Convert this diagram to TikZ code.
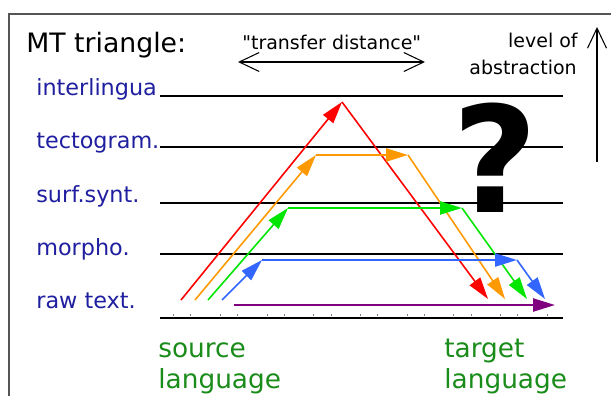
\documentclass[tikz,border=0pt]{standalone}
\usepackage{fontspec}
\setmainfont{DejaVu Sans}[Ligatures=TeXOff]
\usetikzlibrary{arrows.meta}
\definecolor{FrameGray}{HTML}{555555}
\definecolor{TierBlue}{HTML}{1F1FA0}
\definecolor{LangGreen}{HTML}{1A8C1A}
\definecolor{PathRed}{HTML}{FF0000}
\definecolor{PathOrange}{HTML}{FF9900}
\definecolor{PathGreen}{HTML}{00E600}
\definecolor{PathBlue}{HTML}{3366FF}
\definecolor{PathPurple}{HTML}{800080}
\tikzset{
  tierlabel/.style={anchor=base west, inner sep=0pt, text=TierBlue,
    font=\fontsize{12.7}{15}\selectfont},
  langlabel/.style={anchor=base west, inner sep=0pt, text=LangGreen,
    font=\fontsize{15}{18}\selectfont},
  caption/.style={inner sep=0pt, font=\fontsize{10.8}{13}\selectfont},
  tierline/.style={line width=1.7pt},
  hop/.style={-{Triangle[length=4.4mm,width=2.6mm]}, line width=0.9pt},
  bridge/.style={-{Triangle[length=4.4mm,width=2.6mm]}, line width=1.3pt},
  spanarrow/.style={{Straight Barb[length=4mm,width=3.8mm]}-{Straight Barb[length=4mm,width=3.8mm]}, line width=0.6pt},
  axisarrow/.style={-{Straight Barb[length=4mm,width=3.8mm]}, line width=0.6pt}
}

\begin{document}
\begin{tikzpicture}[x=0.02cm,y=-0.02cm]
  \clip (0,0) rectangle (611,395);
  \fill[white] (0,0) rectangle (611,395);
  \draw[FrameGray,line width=1.2pt] (9,400) -- (9,14) -- (620,14);

  \node[anchor=base west,inner sep=0pt,font=\fontsize{15.2}{18}\selectfont] (title) at (26,52) {MT triangle:};
  \node[caption,anchor=base west] (transfer) at (242,50) {"transfer distance"};
  \coordinate (tdl) at (238,62);
  \coordinate (tdr) at (425,62);
  \draw[spanarrow] (tdl) -- (tdr);
  \node[caption,anchor=base east] (levelof) at (578,48) {level of};
  \node[caption,anchor=base east] (abstr) at (577,74) {abstraction};
  \coordinate (axlow) at (597,162);
  \coordinate (axtop) at (597,27);
  \draw[axisarrow] (axlow) -- (axtop);

  \node[tierlabel] (inter) at (36,95) {interlingua};
  \node[tierlabel] (tecto) at (36,148) {tectogram.};
  \node[tierlabel] (surf) at (36,202) {surf.synt.};
  \node[tierlabel] (morph) at (36,255) {morpho.};
  \node[tierlabel] (raw) at (36,308) {raw text.};
  \draw[tierline] (160,96) -- (563,96);
  \draw[tierline] (160,147) -- (563,147);
  \draw[tierline] (160,203) -- (563,203);
  \draw[tierline] (160,254) -- (563,254);
  \draw[tierline] (160,318) -- (563,318);
  \foreach \x in {173,190,220,237,267,284,313,331,360,377,407,424,453,471,500,517,547}
    \draw[line width=0.4pt,gray] (\x,316) -- (\x,313.5);

  \node[font=\fontsize{84}{84}\selectfont\bfseries,inner sep=0pt,anchor=base] (query) at (495,212) {?};

  \coordinate (r0) at (181,300);
  \coordinate (r1) at (342,102);
  \coordinate (r2) at (488,299);
  \draw[hop,PathRed] (r0) -- (r1);
  \draw[hop,PathRed] (r1) -- (r2);

  \coordinate (o0) at (195,300);
  \coordinate (o1) at (316,155);
  \coordinate (o2) at (408,155);
  \coordinate (o3) at (505,299);
  \draw[hop,PathOrange] (o0) -- (o1);
  \draw[bridge,PathOrange] (o1) -- (o2);
  \draw[hop,PathOrange] (o2) -- (o3);

  \coordinate (g0) at (208,300);
  \coordinate (g1) at (288,208);
  \coordinate (g2) at (462,208);
  \coordinate (g3) at (527,299);
  \draw[hop,PathGreen] (g0) -- (g1);
  \draw[bridge,PathGreen] (g1) -- (g2);
  \draw[hop,PathGreen] (g2) -- (g3);

  \coordinate (b0) at (222,300);
  \coordinate (b1) at (262,260);
  \coordinate (b2) at (517,260);
  \coordinate (b3) at (545,299);
  \draw[hop,PathBlue] (b0) -- (b1);
  \draw[bridge,PathBlue] (b1) -- (b2);
  \draw[hop,PathBlue] (b2) -- (b3);

  \coordinate (p0) at (234,305);
  \coordinate (p1) at (555,305);
  \draw[bridge,PathPurple] (p0) -- (p1);

  \node[langlabel] (src) at (158,357) {source};
  \node[langlabel] (srclang) at (158,388) {language};
  \node[langlabel] (tgt) at (444,357) {target};
  \node[langlabel] (tgtlang) at (444,388) {language};
\end{tikzpicture}
\end{document}
